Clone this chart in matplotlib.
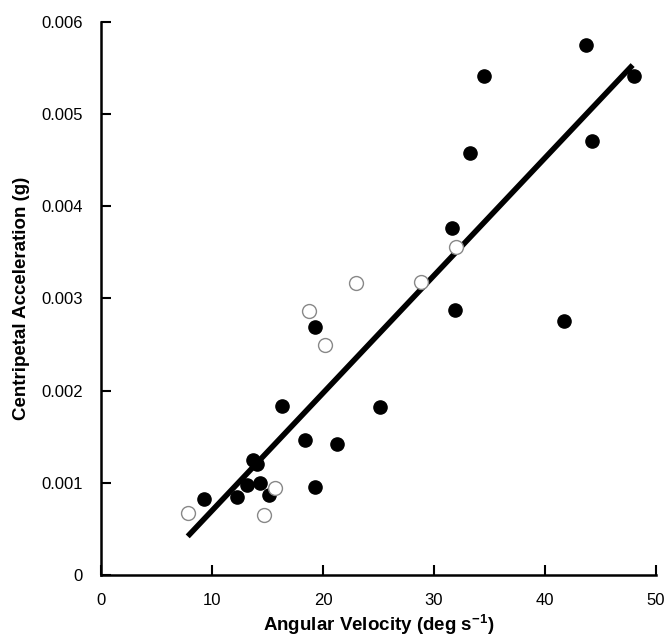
import matplotlib
matplotlib.use("Agg")
import matplotlib.pyplot as plt

# filled circles
filled_x = [9.3, 12.2, 13.1, 13.7, 14.0, 14.3, 15.1, 16.3, 18.4, 19.3, 21.3, 25.1,
            31.6, 19.3, 31.9, 41.7, 43.7, 34.5, 48.0, 33.2, 44.2]
filled_y = [0.00082, 0.00085, 0.00098, 0.00125, 0.00120, 0.00100, 0.00087, 0.00183,
            0.00147, 0.00096, 0.00142, 0.00182, 0.00376, 0.00269, 0.00287, 0.00276,
            0.00575, 0.00541, 0.00541, 0.00458, 0.00471]

# open circles
open_x = [7.8, 14.7, 15.7, 32.0, 23.0, 28.8, 18.7, 20.2]
open_y = [0.00067, 0.00065, 0.00094, 0.00356, 0.00317, 0.00318, 0.00286, 0.00249]

# regression line end points
line_x = [7.8, 47.9]
line_y = [0.00042, 0.00553]

plt.rcParams['font.family'] = ['Liberation Sans', 'DejaVu Sans']
plt.rcParams['mathtext.fontset'] = 'custom'
plt.rcParams['mathtext.bf'] = 'Liberation Sans:bold'
plt.rcParams['mathtext.rm'] = 'Liberation Sans'

fig = plt.figure(figsize=(6.7, 6.39), dpi=100)
ax = fig.add_axes([0.151, 0.100, 0.828, 0.866])

ax.plot(line_x, line_y, color='black', lw=4, solid_capstyle='butt', zorder=2)
ax.plot(filled_x, filled_y, 'o', color='black', ms=9.5, zorder=3)
ax.plot(open_x, open_y, 'o', mfc='white', mec='#888888', mew=1.0, ms=10, zorder=3)

ax.set_xlim(0, 50)
ax.set_ylim(0, 0.006)
ax.set_xticks([0, 10, 20, 30, 40, 50])
ax.set_yticks([0, 0.001, 0.002, 0.003, 0.004, 0.005, 0.006])
ax.set_yticklabels(['0', '0.001', '0.002', '0.003', '0.004', '0.005', '0.006'])
ax.tick_params(direction='in', length=7, width=1.5, labelsize=12, pad=13)
for s in ['top', 'right']:
    ax.spines[s].set_visible(False)
for s in ['left', 'bottom']:
    ax.spines[s].set_linewidth(1.8)

ax.set_xlabel('Angular Velocity (deg s$^{\\mathbf{-1}}$)', fontsize=13.5, fontweight='bold', labelpad=3)
ax.set_ylabel('Centripetal Acceleration (g)', fontsize=13.5, fontweight='bold', labelpad=8)

fig.savefig('out.png', dpi=100)
